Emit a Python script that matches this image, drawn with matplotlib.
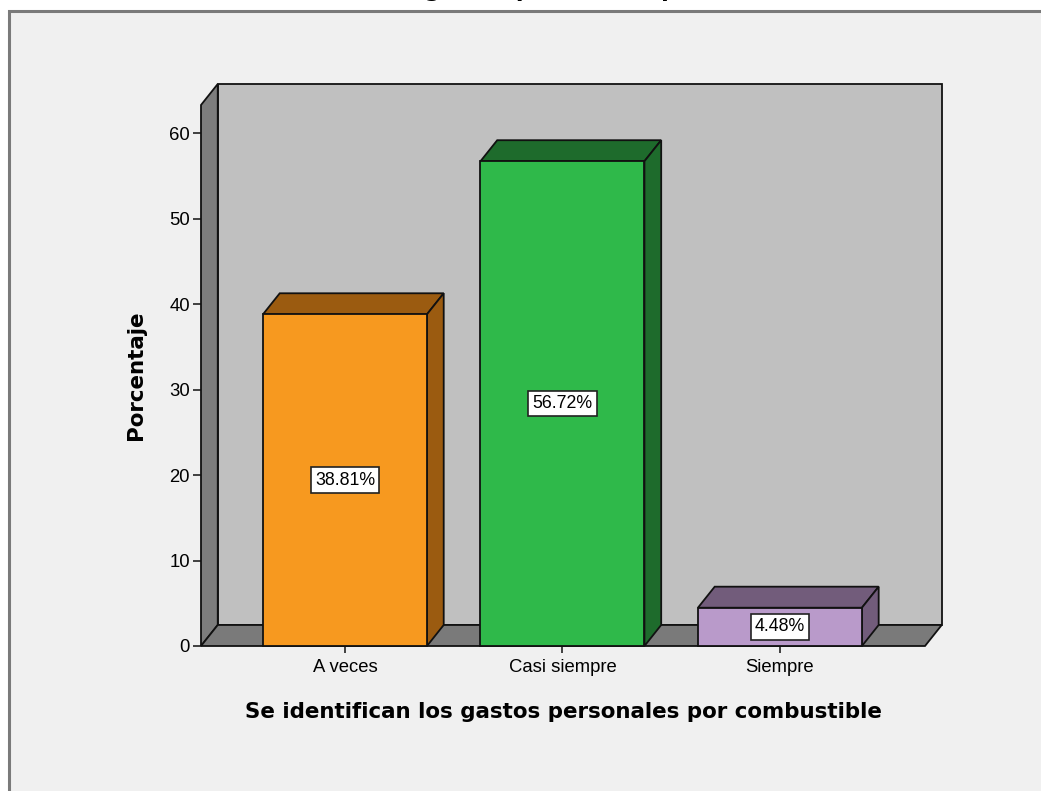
import matplotlib
matplotlib.use("Agg")
import matplotlib.pyplot as plt
from matplotlib.patches import Polygon, Rectangle

categories = ["A veces", "Casi siempre", "Siempre"]
percentages = [38.81, 56.72, 4.48]
value_labels = ["38.81%", "56.72%", "4.48%"]
y_ticks = [0, 10, 20, 30, 40, 50, 60]
x_title = "Se identifican los gastos personales por combustible"
y_title = "Porcentaje"

front_colors = ["#f7991f", "#2fb94a", "#b99aca"]
shade_colors = ["#9b5b10", "#1e6b2c", "#725c7b"]

W, H = 1041, 791
fig = plt.figure(figsize=(W / 100, H / 100), dpi=100)
fig.patch.set_facecolor("white")

# chart frame
fig.patches.append(Rectangle((8.5 / W, -0.05), 1.2, 1 - 11 / H + 0.05,
                             transform=fig.transFigure, facecolor="#f0f0f0",
                             edgecolor="#7a7a7a", linewidth=2.2, zorder=-5))

ax = fig.add_axes([201 / W, (H - 646) / H, (925 - 201) / W, (646 - 105) / H])
ax.set_zorder(2)
ax.set_facecolor("none")
xmin, xmax = -0.662, 2.667
ymax = 63.3
ax.set_xlim(xmin, xmax)
ax.set_ylim(0, ymax)
for s in ax.spines.values():
    s.set_visible(False)

# depth of the 3-D extrusion in data units
dx, dy = 0.077, 2.46
edge = dict(edgecolor="#111111", linewidth=1.3, clip_on=False)

# walls and floor
ax.add_patch(Rectangle((xmin + dx, dy), xmax - xmin, ymax, facecolor="#c0c0c0", zorder=1, **edge))
ax.add_patch(Polygon([(xmin, 0), (xmin, ymax), (xmin + dx, ymax + dy), (xmin + dx, dy)],
                     closed=True, facecolor="#7d7d7d", zorder=2, **edge))
ax.add_patch(Polygon([(xmin, 0), (xmax, 0), (xmax + dx, dy), (xmin + dx, dy)],
                     closed=True, facecolor="#7a7a7a", zorder=2, **edge))

bw = 0.754
for i, (v, fc, sc) in enumerate(zip(percentages, front_colors, shade_colors)):
    l, r = i - bw / 2, i + bw / 2
    ax.add_patch(Polygon([(l, v), (r, v), (r + dx, v + dy), (l + dx, v + dy)],
                         closed=True, facecolor=sc, zorder=3, **edge))
    ax.add_patch(Polygon([(r, 0), (r, v), (r + dx, v + dy), (r + dx, dy)],
                         closed=True, facecolor=sc, zorder=3, **edge))
    ax.add_patch(Rectangle((l, 0), bw, v, facecolor=fc, zorder=4, **edge))
    ax.text(i, v / 2, value_labels[i], ha="center", va="center", fontsize=12.8,
            family="Liberation Sans", zorder=6,
            bbox=dict(boxstyle="square,pad=0.24", facecolor="white",
                      edgecolor="#222222", linewidth=1.2))

ax.set_xticks(range(len(categories)))
ax.set_xticklabels(categories, family="Liberation Sans", fontsize=13.3)
ax.set_yticks(y_ticks)
ax.set_yticklabels([str(t) for t in y_ticks], family="Liberation Sans", fontsize=13.3)
ax.tick_params(axis="y", length=6, width=1.2, color="#222222", pad=2)
ax.tick_params(axis="x", length=5, width=1.2, color="#222222", pad=4)
for t in ax.get_xticklines() + ax.get_yticklines():
    t.set_zorder(5)

ax.set_xlabel(x_title, fontsize=15.4, fontweight="bold", family="DejaVu Sans", labelpad=19)
ax.set_ylabel(y_title, fontsize=15.4, fontweight="bold", family="DejaVu Sans", labelpad=17)

# chart title, mostly above the top edge of the canvas
fig.text(532 / W, 1 + 3.5 / H, x_title, ha="center", va="baseline",
         fontsize=16, fontweight="bold", family="DejaVu Sans")

fig.savefig("out.png", dpi=100, facecolor=fig.get_facecolor())
